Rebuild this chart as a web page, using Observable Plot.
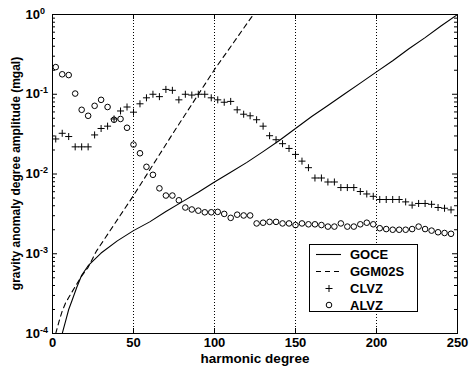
<!DOCTYPE html>
<html><head><meta charset="utf-8">
<script src="https://cdn.jsdelivr.net/npm/d3@7"></script>
<script src="https://cdn.jsdelivr.net/npm/@observablehq/plot@0.6"></script>
<style>
body{margin:0;background:#fff}
svg{display:block}
</style>
</head><body><div id="chart"></div>
<script>
// ---- data ----
const xTicks = [0, 50, 100, 150, 200, 250];
const gridDegrees = [50, 100, 150, 200];
const yExponents = [0, -1, -2, -3, -4];
const seriesNames = ["GOCE", "GGM02S", "CLVZ", "ALVZ"];
const xLabel = "harmonic degree";
const yLabel = "gravity anomaly degree amplitude (mgal)";

const goceDegrees = [6,8,10,12,15,18,22,26,30,40,50,60,70,80,90,100,110,120,130,140,150,160,170,180,190,200,210,220,230,240,250];
const goceValues = [1.0e-4,1.41e-4,2.0e-4,2.57e-4,3.8e-4,5.37e-4,7.08e-4,8.51e-4,1.02e-3,1.45e-3,1.95e-3,2.51e-3,3.39e-3,4.47e-3,5.89e-3,7.94e-3,1.05e-2,1.40e-2,1.91e-2,2.63e-2,3.72e-2,5.25e-2,7.24e-2,0.100,0.138,0.191,0.263,0.372,0.513,0.724,1.0];

const ggmDegrees = [2,4,6,8,10,12,15,18,22,27,50,75,100,124];
const ggmValues = [1.0e-4,1.41e-4,1.91e-4,2.40e-4,2.82e-4,3.31e-4,4.17e-4,5.25e-4,6.76e-4,1.07e-3,5.37e-3,3.39e-2,0.204,1.0];

const lvzDegrees = [2,6,10,14,18,22,26,30,34,38,42,46,50,54,58,62,66,70,74,78,82,86,90,94,98,102,106,110,114,118,122,126,130,134,138,142,146,150,154,158,162,166,170,174,178,182,186,190,194,198,202,206,210,214,218,222,226,230,234,238,242,246];
const clvzValues = [0.0275,0.0324,0.0295,0.0219,0.0219,0.0219,0.0309,0.0372,0.0398,0.0490,0.0617,0.0692,0.0596,0.0759,0.0902,0.100,0.0933,0.115,0.112,0.0851,0.100,0.0977,0.100,0.100,0.0902,0.0851,0.0794,0.0813,0.0638,0.0562,0.0537,0.0479,0.0398,0.0302,0.0269,0.0240,0.0209,0.0176,0.0145,0.0120,0.00891,0.00891,0.00794,0.00794,0.00676,0.00676,0.00676,0.00603,0.00562,0.00525,0.00479,0.00479,0.00479,0.00479,0.00447,0.00407,0.00427,0.00427,0.00417,0.00380,0.00372,0.00355];
const alvzValues = [0.219,0.178,0.174,0.102,0.0638,0.0537,0.0716,0.0851,0.0692,0.0479,0.0490,0.0380,0.0234,0.0182,0.0123,0.00977,0.00661,0.00537,0.00537,0.00468,0.00380,0.00359,0.00347,0.00331,0.00331,0.00335,0.00316,0.00282,0.00309,0.00302,0.00302,0.00240,0.00245,0.00251,0.00251,0.00240,0.00240,0.00229,0.00240,0.00234,0.00234,0.00229,0.00219,0.00219,0.00240,0.00219,0.00219,0.00234,0.00245,0.00234,0.00209,0.00204,0.00200,0.00200,0.00200,0.00204,0.00219,0.00204,0.00195,0.00186,0.00182,0.00178];

// ---- layout ----
const W = 469, H = 371, mL = 52, mR = 12, mT = 14, mB = 38;
const plotW = W - mL - mR, plotH = H - mT - mB;
const FONT = "'Liberation Sans', Arial, Helvetica, sans-serif";

const goce = goceDegrees.map((d, i) => ({degree: d, value: goceValues[i]}));
const ggm = ggmDegrees.map((d, i) => ({degree: d, value: ggmValues[i]}));
const clvz = lvzDegrees.map((d, i) => ({degree: d, value: clvzValues[i]}));
const alvz = lvzDegrees.map((d, i) => ({degree: d, value: alvzValues[i]}));

const majorY = yExponents.map(e => Math.pow(10, e));
const minorY = [];
for (const e of [-4, -3, -2, -1]) for (let m = 2; m <= 9; m++) minorY.push(m * Math.pow(10, e));

const PLUS_R = 2.4, CIRC_R = 2.8;

const svg = Plot.plot({
  width: W, height: H,
  marginLeft: mL, marginRight: mR, marginTop: mT, marginBottom: mB,
  style: {fontFamily: FONT, fontSize: "13px", fontWeight: "bold", background: "#fff", color: "black"},
  x: {domain: [0, 250], axis: null, label: null},
  y: {type: "log", domain: [1e-4, 1], axis: null, label: null},
  marks: [
    Plot.ruleX(gridDegrees, {x: d => d, stroke: "black", strokeWidth: 1, strokeDasharray: "1,2"}),
    Plot.line(goce, {x: "degree", y: "value", stroke: "black", strokeWidth: 1.1, clip: true}),
    Plot.line(ggm, {x: "degree", y: "value", stroke: "black", strokeWidth: 1.1, strokeDasharray: "5,4", clip: true}),
    Plot.dot(clvz, {x: "degree", y: "value", symbol: "plus", r: PLUS_R, stroke: "black", strokeWidth: 1}),
    Plot.dot(alvz, {x: "degree", y: "value", symbol: "circle", r: CIRC_R, stroke: "black", fill: "none", strokeWidth: 1}),
    // inward ticks
    Plot.tickY(majorY, {y: d => d, insetRight: plotW - 5, stroke: "black"}),
    Plot.tickY(majorY, {y: d => d, insetLeft: plotW - 5, stroke: "black"}),
    Plot.tickY(minorY, {y: d => d, insetRight: plotW - 3, stroke: "black"}),
    Plot.tickY(minorY, {y: d => d, insetLeft: plotW - 3, stroke: "black"}),
    Plot.tickX(xTicks, {x: d => d, insetTop: plotH - 5, stroke: "black"}),
    Plot.tickX(xTicks, {x: d => d, insetBottom: plotH - 5, stroke: "black"}),
    Plot.frame({stroke: "black", strokeWidth: 1}),
    Plot.axisX(xTicks, {tickSize: 0, tickPadding: 4, fontSize: 13, fontWeight: "bold", label: null}),
    Plot.text(majorY, {y: d => d, frameAnchor: "left", dx: -27, textAnchor: "start",
      text: d => "10^" + Math.round(Math.log10(d)), fontSize: 13, fontWeight: "bold"}),
    Plot.text([xLabel], {text: d => d, frameAnchor: "bottom", dy: 29.5, fontSize: 13.5, fontWeight: "bold"})
  ]
});

const root = d3.select(svg);
// superscript exponents on y tick labels
root.selectAll("text").each(function() {
  const t = d3.select(this);
  const s = t.text();
  if (s.indexOf("^") < 0) return;
  const parts = s.split("^");
  t.text(parts[0]);
  t.append("tspan").attr("dy", "-0.55em").attr("font-size", "9px").text(parts[1]);
});

// y axis title
root.append("text")
  .attr("transform", `translate(16,${mT + plotH / 2}) rotate(-90)`)
  .attr("text-anchor", "middle").attr("dy", "0.35em")
  .attr("font-family", FONT).attr("font-size", 12).attr("font-weight", "bold")
  .attr("fill", "black")
  .text(yLabel);

// legend
const lg = root.append("g").attr("font-family", FONT).attr("font-size", 13).attr("font-weight", "bold");
lg.append("rect").attr("x", 309.5).attr("y", 244.5).attr("width", 108).attr("height", 67)
  .attr("fill", "white").attr("stroke", "black").attr("stroke-width", 1);
const rowsY = [254.5, 271.5, 288.5, 305];
const sx0 = 316, sx1 = 341, sxm = 329;
seriesNames.forEach((name, i) => {
  const y = rowsY[i];
  if (i === 0 || i === 1) {
    const ln = lg.append("line").attr("x1", sx0).attr("x2", sx1).attr("y1", y).attr("y2", y)
      .attr("stroke", "black").attr("stroke-width", 1.1);
    if (i === 1) ln.attr("stroke-dasharray", "5,4");
  } else {
    const sym = i === 2 ? d3.symbolPlus : d3.symbolCircle;
    const r = i === 2 ? PLUS_R : CIRC_R;
    lg.append("path").attr("d", d3.symbol(sym, Math.PI * r * r)())
      .attr("transform", `translate(${sxm},${y})`)
      .attr("fill", "none").attr("stroke", "black").attr("stroke-width", 1);
  }
  lg.append("text").attr("x", 350).attr("y", y).attr("dy", "0.35em")
    .attr("text-anchor", "start").attr("fill", "black").text(name);
});

document.getElementById("chart").appendChild(svg);
</script>
</body></html>
